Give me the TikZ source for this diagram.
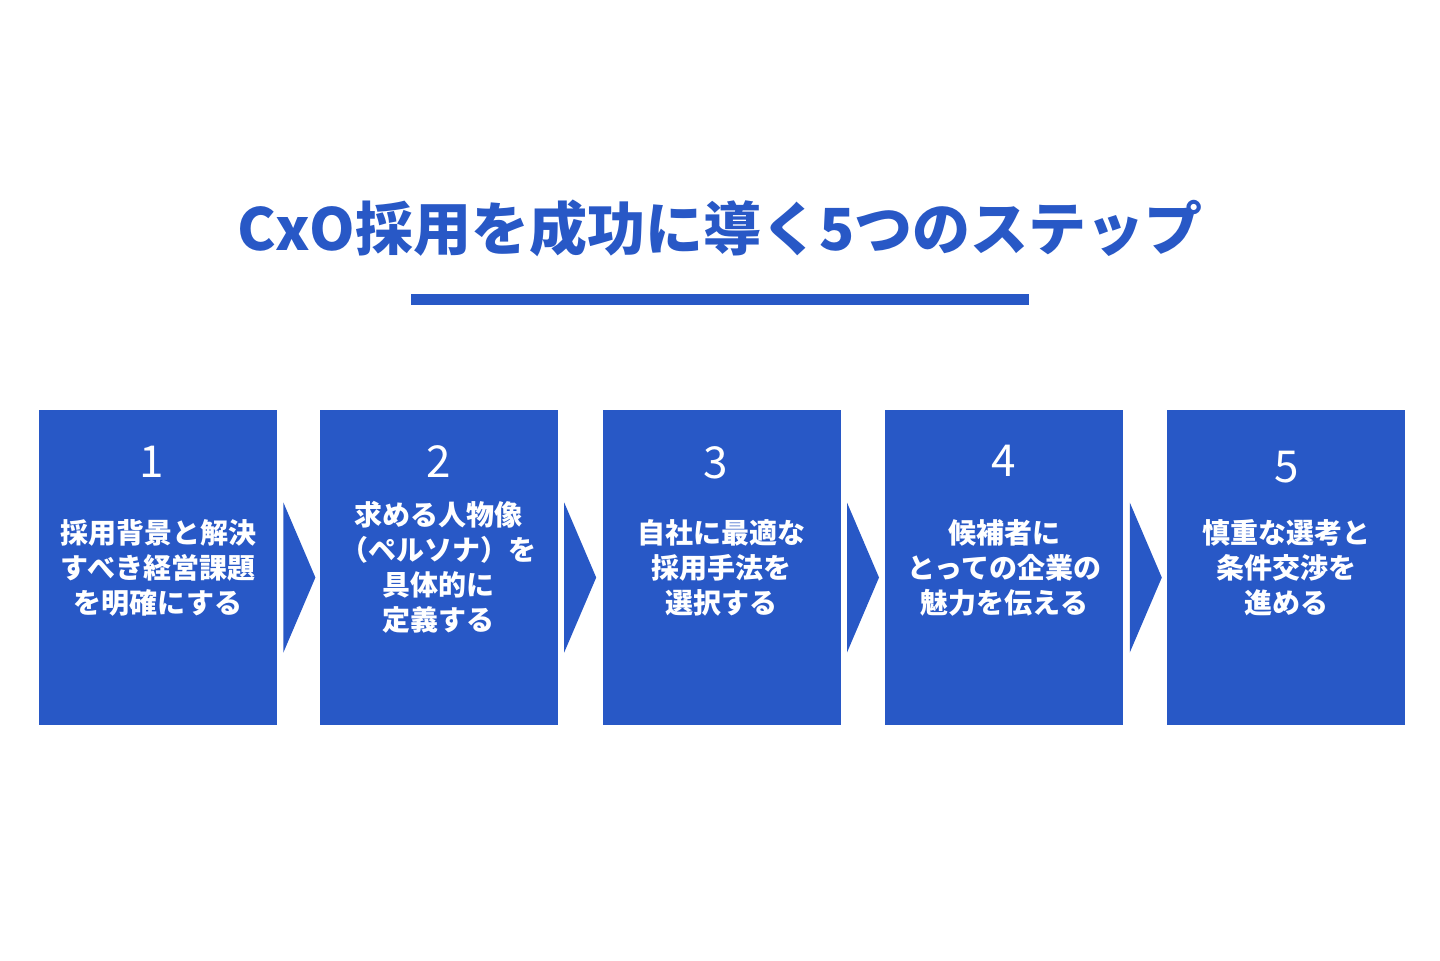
\documentclass[tikz,border=0pt]{standalone}
\usepackage{fontspec}
\setmainfont{Noto Sans CJK JP}
\newfontfamily\jpfont{Noto Sans CJK JP}
\usepackage{tikz}
\usetikzlibrary{positioning, calc}

\definecolor{stepblue}{HTML}{2858C6}

\tikzset{
  stepbox/.style = {rectangle, fill=stepblue, minimum width=119pt, minimum height=157.5pt, inner sep=0pt},
  stepnum/.style = {text=white, font=\jpfont\fontsize{22}{22}\selectfont},
  steptext/.style = {text=white, align=center, font=\jpfont\bfseries\fontsize{14}{17.5}\selectfont},
}

\begin{document}
\begin{tikzpicture}[x=0.5pt, y=-0.5pt]
  \useasboundingbox (0,0) rectangle (1440,960);

  \node (title) [text=stepblue, font=\jpfont\bfseries\fontsize{29}{29}\selectfont] at (720,228) {CxO採用を成功に導く5つのステップ};
  \node (bar) [fill=stepblue, minimum width=309pt, minimum height=5.5pt, inner sep=0pt] at (720,299.5) {};

  \node (box1) [stepbox] at (158,567.5) {};
  \node (box2) [stepbox, right = 21pt of box1] {};
  \node (box3) [stepbox, right = 22pt of box2] {};
  \node (box4) [stepbox, right = 22pt of box3] {};
  \node (box5) [stepbox, right = 21.5pt of box4] {};

  \foreach \i/\dx/\dy in {1/-6/52,2/0/52,3/-6/53,4/-1/51,5/0/57}
    \node (num\i) [stepnum] at ($(box\i.north)+(\dx,\dy)$) {\i};

  \node (txt1) [steptext] at (box1.center) {採用背景と解決\\すべき経営課題\\を明確にする};
  \node (txt2) [steptext] at (box2.center) {求める人物像\\（ペルソナ）を\\具体的に\\定義する};
  \node (txt3) [steptext] at (box3.center) {自社に最適な\\採用手法を\\選択する};
  \node (txt4) [steptext] at (box4.center) {候補者に\\とっての企業の\\魅力を伝える};
  \node (txt5) [steptext] at (box5.center) {慎重な選考と\\条件交渉を\\進める};

  % chevrons between the steps
  \foreach \i/\j in {1/2,2/3,3/4,4/5}
    \fill [stepblue] ($(box\i.east)+(6,-65)$) -- ($(box\i.east)+(38,10)$) -- ($(box\i.east)+(6,85)$) -- cycle;
\end{tikzpicture}
\end{document}
